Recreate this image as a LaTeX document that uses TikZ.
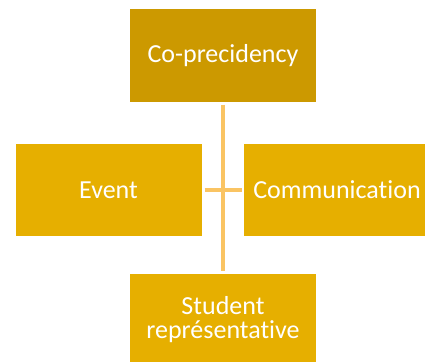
\documentclass[tikz,border=0pt]{standalone}
\usepackage{fontspec}
\setmainfont{Carlito}[Ligatures={NoCommon,NoRequired,NoContextual}]
\definecolor{darkgold}{HTML}{CC9900}
\definecolor{gold}{HTML}{E6AF00}
\definecolor{linegold}{HTML}{FAC463}
\tikzset{
  box/.style={rectangle, fill=gold, draw=none, minimum width=186pt, minimum height=92pt, inner sep=0pt, text=white, align=center, font=\fontsize{26}{24}\selectfont},
  topbox/.style={box, fill=darkgold},
  link/.style={draw=linegold, line width=3.3pt}
}
\begin{document}
\begin{tikzpicture}[x=1pt,y=-1pt]
\useasboundingbox (0,0) rectangle (425,361);
\node[topbox] (top) at (223,55.5) {Co-precidency};
\node[box] (event) at (108.5,190) {Event};
\node[box] (comm) at (337,190) {Communication};
\node[box] (stud) at (223,320) {Student\\représentative};
\draw[link, shorten <=3pt, shorten >=2.5pt] (top.south) -- (stud.north);
\draw[link, shorten <=3pt, shorten >=2pt] (event.east) -- (comm.west);
\end{tikzpicture}
\end{document}
